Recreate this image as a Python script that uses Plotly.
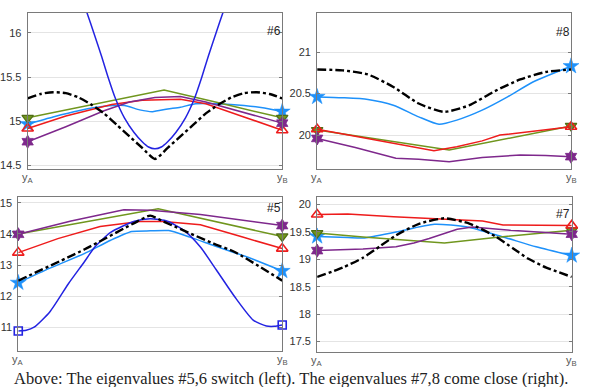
import plotly.graph_objects as go

# ---------------- data: panel #6 (top-left) ----------------
P6_BLACK_T = [0, 0.05, 0.1, 0.15, 0.2, 0.25, 0.3, 0.35, 0.4, 0.45, 0.5, 0.55, 0.6, 0.65, 0.7, 0.75, 0.8, 0.85, 0.9, 0.95, 1.0]
P6_BLACK_V = [15.26, 15.31, 15.33, 15.32, 15.27, 15.19, 15.09, 14.96, 14.83, 14.70, 14.575, 14.70, 14.83, 14.96, 15.09, 15.19, 15.27, 15.32, 15.33, 15.31, 15.26]
P6_BLUE_T = [0.2, 0.233, 0.26, 0.29, 0.316, 0.346, 0.38, 0.418, 0.45, 0.475, 0.5, 0.525, 0.55, 0.582, 0.62, 0.654, 0.684, 0.71, 0.74, 0.767, 0.8]
P6_BLUE_V = [16.5, 16.23, 16.0, 15.74, 15.5, 15.25, 15.04, 14.875, 14.77, 14.71, 14.69, 14.71, 14.77, 14.875, 15.04, 15.25, 15.5, 15.74, 16.0, 16.23, 16.5]
P6_LBLUE_T = [0, 0.1, 0.2, 0.3, 0.38, 0.44, 0.49, 0.55, 0.6, 0.66, 0.75, 0.85, 0.93, 1.0]
P6_LBLUE_V = [14.97, 15.05, 15.12, 15.17, 15.18, 15.13, 15.11, 15.14, 15.16, 15.20, 15.20, 15.18, 15.15, 15.11]
P6_GREEN_T = [0, 0.25, 0.536, 0.75, 1.0]
P6_GREEN_V = [15.04, 15.19, 15.355, 15.21, 15.04]
P6_RED_T = [0, 0.15, 0.33, 0.45, 0.6, 0.7, 0.85, 1.0]
P6_RED_V = [14.92, 15.06, 15.19, 15.24, 15.25, 15.2, 15.05, 14.90]
P6_PURPLE_T = [0, 0.15, 0.3, 0.4, 0.5, 0.6, 0.7, 0.85, 1.0]
P6_PURPLE_V = [14.77, 14.94, 15.12, 15.22, 15.27, 15.28, 15.22, 15.10, 14.98]

# ---------------- data: panel #8 (top-right) ----------------
P8_BLACK_T = [0, 0.1, 0.2, 0.3, 0.4, 0.5, 0.6, 0.7, 0.8, 0.9, 1.0]
P8_BLACK_V = [20.79, 20.78, 20.73, 20.58, 20.38, 20.28, 20.36, 20.53, 20.67, 20.76, 20.79]
P8_LBLUE_T = [0, 0.1, 0.2, 0.3, 0.4, 0.48, 0.55, 0.65, 0.75, 0.85, 1.0]
P8_LBLUE_V = [20.46, 20.45, 20.43, 20.36, 20.22, 20.13, 20.18, 20.30, 20.46, 20.64, 20.83]
P8_GREEN_T = [0, 0.52, 1.0]
P8_GREEN_V = [20.06, 19.82, 20.11]
P8_RED_T = [0, 0.2, 0.35, 0.46, 0.55, 0.65, 0.72, 0.8, 0.9, 1.0]
P8_RED_V = [20.07, 19.96, 19.87, 19.81, 19.86, 19.93, 20.00, 20.03, 20.07, 20.10]
P8_PURPLE_T = [0, 0.15, 0.31, 0.4, 0.52, 0.65, 0.8, 0.9, 1.0]
P8_PURPLE_V = [19.96, 19.85, 19.72, 19.71, 19.68, 19.73, 19.76, 19.755, 19.74]

# ---------------- data: panel #5 (bottom-left) ----------------
P5_BLACK_T = [0, 0.25, 0.45, 0.5, 0.55, 0.74, 0.82, 1.0]
P5_BLACK_V = [12.5, 13.5, 14.4, 14.59, 14.4, 13.69, 13.42, 12.5]
P5_BLUE_T = [0, 0.03, 0.06, 0.12, 0.19, 0.25, 0.29, 0.35, 0.44, 0.5, 0.565, 0.63, 0.69, 0.75, 0.82, 0.89, 0.94, 0.97, 1.0]
P5_BLUE_V = [10.88, 10.9, 11.0, 11.5, 12.4, 13.1, 13.58, 14.05, 14.41, 14.49, 14.41, 14.1, 13.58, 12.85, 11.98, 11.23, 11.04, 11.03, 11.07]
P5_LBLUE_T = [0, 0.12, 0.25, 0.35, 0.43, 0.5, 0.57, 0.65, 0.74, 0.87, 1.0]
P5_LBLUE_V = [12.43, 12.9, 13.37, 13.8, 14.08, 14.1, 14.11, 13.9, 13.63, 13.25, 12.81]
P5_RED_T = [0, 0.15, 0.31, 0.46, 0.55, 0.69, 0.85, 1.0]
P5_RED_V = [13.4, 13.85, 14.24, 14.4, 14.4, 14.3, 13.9, 13.53]
P5_GREEN_T = [0, 0.53, 1.0]
P5_GREEN_V = [14.0, 14.81, 13.92]
P5_PURPLE_T = [0, 0.2, 0.4, 0.5, 0.69, 1.0]
P5_PURPLE_V = [13.99, 14.42, 14.78, 14.76, 14.63, 14.27]

# ---------------- data: panel #7 (bottom-right) ----------------
P7_BLACK_T = [0, 0.1, 0.18, 0.25, 0.31, 0.4, 0.5, 0.6, 0.7, 0.77, 0.83, 0.9, 1.0]
P7_BLACK_V = [18.68, 18.85, 19.03, 19.25, 19.44, 19.65, 19.75, 19.65, 19.42, 19.2, 19.01, 18.85, 18.68]
P7_RED_T = [0, 0.12, 0.3, 0.5, 0.65, 0.73, 1.0]
P7_RED_V = [19.82, 19.83, 19.78, 19.73, 19.70, 19.63, 19.62]
P7_GREEN_T = [0, 0.18, 0.5, 0.7, 1.0]
P7_GREEN_V = [19.48, 19.41, 19.30, 19.40, 19.53]
P7_LBLUE_T = [0, 0.12, 0.18, 0.31, 0.46, 0.59, 0.73, 0.86, 1.0]
P7_LBLUE_V = [19.42, 19.40, 19.39, 19.50, 19.64, 19.59, 19.41, 19.23, 19.07]
P7_PURPLE_T = [0, 0.18, 0.31, 0.38, 0.44, 0.55, 0.61, 0.76, 1.0]
P7_PURPLE_V = [19.16, 19.19, 19.23, 19.30, 19.38, 19.55, 19.59, 19.53, 19.46]

PANEL_LABELS = ["#6", "#8", "#5", "#7"]
Y_RANGES = [[14.46, 16.23], [19.59, 21.475], [10.22, 15.2], [17.3, 20.145]]
Y_TICKS = [[14.5, 15, 15.5, 16], [20, 20.5, 21], [11, 12, 13, 14, 15], [17.5, 18, 18.5, 19, 19.5, 20]]
X_TICKTEXT = ["y<sub>A</sub>", "y<sub>B</sub>"]
CAPTION = "Above: The eigenvalues #5,6 switch (left). The eigenvalues #7,8 come close (right)."

# ---------------- styles ----------------
C_BLACK = "black"
C_BLUE = "rgb(35,35,225)"
C_LBLUE = "rgb(30,145,250)"
C_RED = "rgb(238,28,28)"
C_GREEN = "rgb(112,150,30)"
C_PURPLE = "rgb(126,40,140)"

STY = {
    "black": dict(color=C_BLACK, width=2.4, dash="dashdot", shape="spline", marker=None),
    "blue": dict(color=C_BLUE, width=1.5, dash="solid", shape="spline",
                 marker=dict(symbol="square-open", size=8, color=C_BLUE, line=dict(width=1.6, color=C_BLUE))),
    "lblue": dict(color=C_LBLUE, width=1.5, dash="solid", shape="spline",
                  marker=dict(symbol="star", size=12, color=C_LBLUE, line=dict(width=0.5, color=C_LBLUE))),
    "red": dict(color=C_RED, width=1.5, dash="solid", shape="linear",
                marker=dict(symbol="triangle-up-open", size=10, color=C_RED, line=dict(width=1.6, color=C_RED))),
    "green": dict(color=C_GREEN, width=1.5, dash="solid", shape="linear",
                  marker=dict(symbol="triangle-down", size=10, color=C_GREEN, line=dict(width=1.2, color="rgb(80,110,20)"))),
    "purple": dict(color=C_PURPLE, width=1.5, dash="solid", shape="linear",
                   marker=dict(symbol="hexagram", size=10, color=C_PURPLE, line=dict(width=0.8, color=C_PURPLE))),
}

PANELS = [
    [("lblue", P6_LBLUE_T, P6_LBLUE_V), ("green", P6_GREEN_T, P6_GREEN_V), ("red", P6_RED_T, P6_RED_V),
     ("purple", P6_PURPLE_T, P6_PURPLE_V), ("blue", P6_BLUE_T, P6_BLUE_V), ("black", P6_BLACK_T, P6_BLACK_V)],
    [("lblue", P8_LBLUE_T, P8_LBLUE_V), ("green", P8_GREEN_T, P8_GREEN_V), ("red", P8_RED_T, P8_RED_V),
     ("purple", P8_PURPLE_T, P8_PURPLE_V), ("black", P8_BLACK_T, P8_BLACK_V)],
    [("lblue", P5_LBLUE_T, P5_LBLUE_V), ("green", P5_GREEN_T, P5_GREEN_V), ("red", P5_RED_T, P5_RED_V),
     ("purple", P5_PURPLE_T, P5_PURPLE_V), ("blue", P5_BLUE_T, P5_BLUE_V), ("black", P5_BLACK_T, P5_BLACK_V)],
    [("lblue", P7_LBLUE_T, P7_LBLUE_V), ("green", P7_GREEN_T, P7_GREEN_V), ("red", P7_RED_T, P7_RED_V),
     ("purple", P7_PURPLE_T, P7_PURPLE_V), ("black", P7_BLACK_T, P7_BLACK_V)],
]

W, H = 591, 387
# pixel boxes (left, right, top, bottom)
BOXES = [(26.7, 281.7, 12.7, 170.0), (316.7, 571.0, 12.7, 170.0),
         (17.3, 281.7, 197.7, 353.3), (316.7, 571.7, 197.7, 354.3)]
LABEL_POS = [(273, 31), (563, 32), (273, 209), (563, 215)]
SANS = "Liberation Sans, Arial, Helvetica, sans-serif"

fig = go.Figure()
layout = dict(width=W, height=H, margin=dict(l=0, r=0, t=0, b=0),
              paper_bgcolor="white", plot_bgcolor="white", showlegend=False,
              font=dict(family=SANS, color="#333"))
annotations = []

for i, (series, box) in enumerate(zip(PANELS, BOXES)):
    n = "" if i == 0 else str(i + 1)
    xa, ya = "x" + n, "y" + n
    l, r, t, b = box
    layout["xaxis" + n] = dict(domain=[l / W, r / W], range=[0, 1], anchor=ya,
                               showgrid=False, zeroline=False, showline=True, mirror=True,
                               linecolor="#7a7a7a", linewidth=1, showticklabels=False, ticks="",
                               fixedrange=True)
    layout["yaxis" + n] = dict(domain=[1 - b / H, 1 - t / H], range=Y_RANGES[i], anchor=xa,
                               tickvals=Y_TICKS[i], showgrid=True, gridcolor="#e4e4e4", gridwidth=1,
                               zeroline=False, showline=True, mirror="ticks", linecolor="#7a7a7a",
                               linewidth=1, ticks="inside", ticklen=3, tickcolor="#7a7a7a",
                               tickfont=dict(family=SANS, size=11, color="#333"), ticklabelstandoff=3,
                               fixedrange=True)
    for key, tt, vv in series:
        s = STY[key]
        fig.add_trace(go.Scatter(x=tt, y=vv, mode="lines", xaxis=xa, yaxis=ya,
                                 line=dict(color=s["color"], width=s["width"], dash=s["dash"],
                                           shape=s["shape"], smoothing=0.6),
                                 cliponaxis=True, hoverinfo="skip"))
        if s["marker"] is not None and tt[0] == 0 and tt[-1] == 1.0:
            fig.add_trace(go.Scatter(x=[tt[0], tt[-1]], y=[vv[0], vv[-1]], mode="markers",
                                     xaxis=xa, yaxis=ya, marker=s["marker"], cliponaxis=False,
                                     hoverinfo="skip"))
    # y_A / y_B labels
    for xv, txt in zip([0, 1], X_TICKTEXT):
        annotations.append(dict(x=xv, xref=xa, y=1 - (b + 1) / H, yref="paper",
                                text=txt, showarrow=False, xanchor="center", yanchor="top",
                                borderpad=0, font=dict(family=SANS, size=11, color="#555")))
    lx, ly = LABEL_POS[i]
    annotations.append(dict(x=lx / W, y=1 - ly / H, xref="paper", yref="paper", text=PANEL_LABELS[i],
                            showarrow=False, xanchor="center", yanchor="middle",
                            font=dict(family=SANS, size=12, color="#222")))

annotations.append(dict(x=290 / W, y=-4 / H, xref="paper", yref="paper", text=CAPTION,
                        showarrow=False, xanchor="center", yanchor="bottom", borderpad=0,
                        font=dict(family="Liberation Serif, Times New Roman, serif", size=16.5, color="#222")))
layout["annotations"] = annotations
fig.update_layout(**layout)
fig.write_html("out.html")
